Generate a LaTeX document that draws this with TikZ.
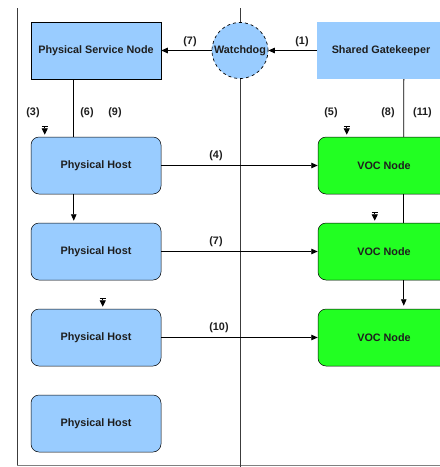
\documentclass[tikz,border=0pt]{standalone}
\usepackage{fontspec}
\setmainfont{Liberation Sans}
\usetikzlibrary{arrows.meta}
\definecolor{hostblue}{RGB}{153,204,255}
\definecolor{vocgreen}{RGB}{34,255,34}
\definecolor{lanegray}{RGB}{60,60,60}
\definecolor{txt}{RGB}{30,30,30}
\begin{document}
\begin{tikzpicture}[x=1pt,y=-1pt,
  every node/.style={font=\fontsize{10.8}{12}\selectfont\bfseries, text=txt},
  plainbox/.style={rectangle, fill=hostblue, minimum width=130pt, minimum height=57pt, inner sep=0pt},
  hostbox/.style={rectangle, rounded corners=8pt, fill=hostblue, draw=black, line width=0.5pt,
                  minimum width=130pt, minimum height=57pt, inner sep=0pt},
  vocbox/.style={hostbox, fill=vocgreen, minimum width=132pt},
  dogcircle/.style={circle, fill=hostblue, draw=black, dashed, line width=0.7pt, minimum size=56pt, inner sep=0pt},
  flow/.style={draw=black, line width=0.9pt, -{Triangle[length=6.5pt,width=5.5pt]}},
  link/.style={draw=black, line width=0.9pt},
  entrymark/.style={draw=black, line width=0.9pt, {Bar[width=6pt,line width=1.2pt]}-{Triangle[length=6.5pt,width=6pt]}},
  lane/.style={draw=lanegray, line width=1pt},
  tag/.style={inner sep=0pt}]
% canvas
\fill[white] (0,0) rectangle (440,467);
\clip (0,0) rectangle (440,467);
\useasboundingbox (0,0) rectangle (440,467);

% swim-lane dividers
\draw[lane] (17,8) -- (17,465);
\draw[lane, draw=gray] (17,465) -- (440,465);
\draw[lane] (240,8) -- (240,467);

% top row
\node[plainbox, draw=black, line width=0.5pt] (psn) at (96,50.5) {Physical Service Node};
\node[plainbox, minimum width=128pt] (gk) at (381,50.5) {Shared Gatekeeper};
\node[dogcircle] (wd) at (240,50.5) {};
\node (wdtext) at (240,50.5) {Watchdog};

% hosts
\node[hostbox] (h1) at (96,165.5) {Physical Host};
\node[hostbox] (h2) at (96,251.5) {Physical Host};
\node[hostbox] (h3) at (96,337.5) {Physical Host};
\node[hostbox] (h4) at (96,423.5) {Physical Host};

% VOC nodes
\node[vocbox] (v1) at (384,165.5) {VOC Node};
\node[vocbox] (v2) at (384,251.5) {VOC Node};
\node[vocbox] (v3) at (384,337.5) {VOC Node};

% connectors
\draw[flow] (gk.west) -- (wd.east);
\draw[flow] (wd.west) -- (psn.east);
\draw[link] ([xshift=43pt]psn.south west) -- ([xshift=43pt]h1.north west);
\draw[flow] ([xshift=43pt]h1.south west) -- ([xshift=43pt,yshift=2pt]h2.north west);
\draw[link] ([xshift=87pt]gk.south west) -- ([xshift=86pt]v1.north west);
\draw[link] ([xshift=86pt]v1.south west) -- ([xshift=86pt]v2.north west);
\draw[flow] ([xshift=86pt]v2.south west) -- ([xshift=86pt,yshift=3pt]v3.north west);
\draw[flow] (h1.east) -- (v1.west);
\draw[flow] (h2.east) -- (v2.west);
\draw[flow] (h3.east) -- (v3.west);

% entry markers
\draw[entrymark] ([xshift=14pt,yshift=11pt]h1.north west) -- ([xshift=14pt,yshift=2pt]h1.north west);
\draw[entrymark] ([xshift=72pt,yshift=11pt]h3.north west) -- ([xshift=72pt,yshift=2pt]h3.north west);
\draw[entrymark] ([xshift=29pt,yshift=11pt]v1.north west) -- ([xshift=29pt,yshift=2pt]v1.north west);
\draw[entrymark] ([xshift=57pt,yshift=11pt]v2.north west) -- ([xshift=57pt,yshift=2pt]v2.north west);

% step numbers
\node[tag] (s1) at (302,42) {(1)};
\node[tag] (s7a) at (190,42) {(7)};
\node[tag] (s3) at (33,113) {(3)};
\node[tag] (s6) at (87,113) {(6)};
\node[tag] (s9) at (115,113) {(9)};
\node[tag] (s5) at (331,113) {(5)};
\node[tag] (s8) at (388,113) {(8)};
\node[tag] (s11) at (422.5,113) {(11)};
\node[tag] (s4) at (216,156) {(4)};
\node[tag] (s7b) at (216,242) {(7)};
\node[tag] (s10) at (219,328) {(10)};
\end{tikzpicture}
\end{document}
